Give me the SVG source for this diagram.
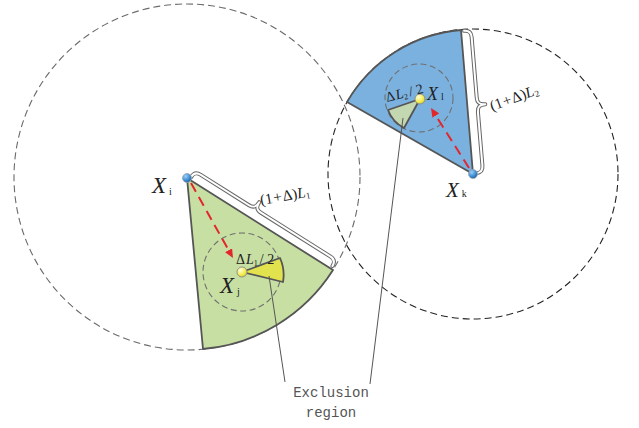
<svg xmlns="http://www.w3.org/2000/svg" width="639" height="428" viewBox="0 0 639 428">
<style>
.bigL{fill:none;stroke:#6a6a6a;stroke-width:1.1;stroke-dasharray:7 4}
.bigR{fill:none;stroke:#222;stroke-width:1.1;stroke-dasharray:7 4}
.small{fill:none;stroke:#707070;stroke-width:1.1;stroke-dasharray:6 3.5}
.sector{stroke:#555;stroke-width:1.8;stroke-linejoin:round}
.brace-o{fill:none;stroke:#666;stroke-width:4;stroke-linecap:round;stroke-linejoin:round}
.brace-i{fill:none;stroke:#fff;stroke-width:2;stroke-linecap:round;stroke-linejoin:round}
.red{fill:none;stroke:#e3262b;stroke-width:2;stroke-dasharray:10 6}
.lead{fill:none;stroke:#555;stroke-width:1}
.bdot{fill:url(#bg);stroke:#9aa7b3;stroke-width:0.8}
.ydot{fill:url(#yg);stroke:#888;stroke-width:0.9}
.X{font-family:"Liberation Serif",serif;font-style:italic;font-size:23px;fill:#222}
.sub{font-style:normal;font-size:10px}
.m{font-family:"Liberation Serif",serif;font-size:14px;fill:#222}
.it{font-style:italic}
.ex{font-family:"Liberation Mono",monospace;font-size:14px;fill:#555;text-anchor:middle}
</style>
<defs>
<radialGradient id="bg" cx="0.35" cy="0.3" r="0.75">
<stop offset="0" stop-color="#9fd0f5"/><stop offset="0.6" stop-color="#3f8fd4"/><stop offset="1" stop-color="#1c5f9e"/>
</radialGradient>
<radialGradient id="yg" cx="0.35" cy="0.3" r="0.75">
<stop offset="0" stop-color="#fffde0"/><stop offset="0.6" stop-color="#f4ef5a"/><stop offset="1" stop-color="#d9cf2a"/>
</radialGradient>
<marker id="ah" markerWidth="10" markerHeight="8" refX="0" refY="4" orient="auto" markerUnits="userSpaceOnUse">
<path d="M0,0 L9,4 L0,8 Z" fill="#e3262b"/>
</marker>
</defs>

<g id="range-circles">
<circle class="bigL" cx="187" cy="177" r="173"/>
<circle class="bigR" cx="473" cy="174" r="145"/>
</g>

<g id="sector-i">
<path class="sector" fill="#c7dfa3" d="M187,178 L333,270 A172,172 0 0,1 203,349 Z"/>
</g>
<g id="sector-k">
<path class="sector" fill="#7ab1df" d="M473,174 L347,102 A145,145 0 0,1 461,30 Z"/>
</g>

<g id="exclusion-j">
<circle class="small" cx="242" cy="272" r="39"/>
<path class="sector" fill="#e2e24e" d="M242,272 L280,258 A41,41 0 0,1 283,282 Z"/>
</g>
<g id="exclusion-l">
<circle class="small" cx="419" cy="98" r="34"/>
<path class="sector" fill="#c3d7b1" d="M420,99 L388,110 A34,34 0 0,0 404,128 Z"/>
</g>

<g id="braces">
<g transform="translate(187,178) rotate(32.2)">
<path class="brace-o" d="M3,-3 C3,-8 5,-10 10,-10 L67,-10 C72,-10 74,-12 74,-18 C74,-12 76,-10 81,-10 L163,-10 C168,-10 170,-8 170,-3"/>
<path class="brace-i" d="M3,-3 C3,-8 5,-10 10,-10 L67,-10 C72,-10 74,-12 74,-18 C74,-12 76,-10 81,-10 L163,-10 C168,-10 170,-8 170,-3"/>
</g>
<g transform="translate(461,30) rotate(85.2)">
<path class="brace-o" d="M1,-3 C1,-8 3,-10 8,-10 L69,-10 C74,-10 76,-12 76,-18 C76,-12 78,-10 83,-10 L137,-10 C142,-10 144,-8 144,-3"/>
<path class="brace-i" d="M1,-3 C1,-8 3,-10 8,-10 L69,-10 C74,-10 76,-12 76,-18 C76,-12 78,-10 83,-10 L137,-10 C142,-10 144,-8 144,-3"/>
</g>
</g>

<g id="connectors">
<line class="red" x1="191" y1="183" x2="228.6" y2="250.2" marker-end="url(#ah)"/>
<line class="red" x1="469" y1="168" x2="435.8" y2="115.6" marker-end="url(#ah)"/>
<line class="lead" x1="269" y1="276" x2="285" y2="382"/>
<line class="lead" x1="403" y1="118" x2="370" y2="384"/>
</g>

<g id="node-xi">
<circle class="bdot" cx="187" cy="178" r="4.5"/>
<text class="X" x="152" y="193">X<tspan class="sub" dx="3" dy="2">i</tspan></text>
</g>
<g id="node-xk">
<circle class="bdot" cx="473" cy="174" r="4.5"/>
<text class="X" x="446" y="197" style="font-size:21px">X<tspan class="sub" dx="3" dy="0">k</tspan></text>
</g>
<g id="node-xj">
<circle class="ydot" cx="242" cy="272" r="5"/>
<text class="X" x="220" y="293">X<tspan class="sub" dx="3" dy="2">j</tspan></text>
<text class="m" x="236" y="264">Δ<tspan class="it" dx="1">L</tspan><tspan font-size="8" dy="2">1</tspan><tspan dx="2" dy="-2">/ 2</tspan></text>
</g>
<g id="node-xl">
<circle class="ydot" cx="420" cy="99" r="5"/>
<text class="X" x="427" y="100" style="font-size:18px">X<tspan class="sub" dx="3" dy="0">l</tspan></text>
<text class="m" x="387" y="102" transform="rotate(-14 387 102)">Δ<tspan class="it" dx="1">L</tspan><tspan font-size="8" dy="2">2</tspan><tspan dx="2" dy="-2">/ 2</tspan></text>
</g>

<g id="labels">
<text class="m" x="261" y="205" transform="rotate(-10 261 205)" style="font-size:15px">(1<tspan dx="1">+</tspan><tspan dx="1">Δ)</tspan><tspan class="it">L</tspan><tspan font-size="9" dy="2">1</tspan></text>
<text class="m" x="492" y="111" transform="rotate(-20 492 111)" style="font-size:15px">(1<tspan dx="1">+</tspan><tspan dx="1">Δ)</tspan><tspan class="it">L</tspan><tspan font-size="9" dy="2">2</tspan></text>
<text class="ex" x="331" y="397">Exclusion</text>
<text class="ex" x="331" y="417">region</text>
</g>
</svg>
